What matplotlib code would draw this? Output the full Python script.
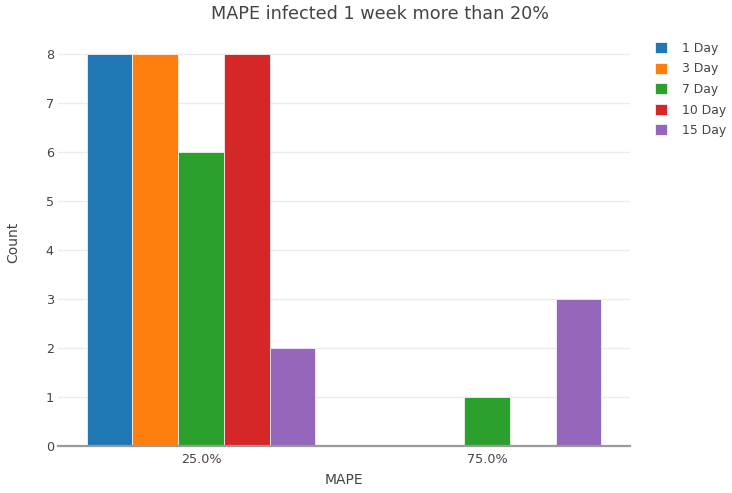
import matplotlib
matplotlib.use("Agg")
import matplotlib.pyplot as plt
import numpy as np

categories = ["25.0%", "75.0%"]
series_names = ["1 Day", "3 Day", "7 Day", "10 Day", "15 Day"]
series_values = [
    [8, 0],
    [8, 0],
    [6, 1],
    [8, 0],
    [2, 3],
]
colors = ["#1f77b4", "#ff7f0e", "#2ca02c", "#d62728", "#9467bd"]

W, H = 732, 493
plt.rcParams["font.family"] = ["DejaVu Sans"]

fig = plt.figure(figsize=(W / 100, H / 100), dpi=100)
left, right, top, bottom = 58, 630, 33, 446
ax = fig.add_axes([left / W, 1 - bottom / H, (right - left) / W, (bottom - top) / H])

n = len(series_names)
group = 0.8
bw = group / n
x = np.arange(len(categories))
handles = []
for i, (name, vals, c) in enumerate(zip(series_names, series_values, colors)):
    offs = -group / 2 + bw * (i + 0.5)
    b = ax.bar(x + offs, vals, width=bw, color=c, edgecolor="white",
               linewidth=0.5, label=name, zorder=3)
    handles.append(b)

ax.set_xlim(-0.5, 1.5)
ax.set_ylim(0, 8.42)
ax.set_xticks(x)
ax.set_xticklabels(categories)
ax.set_yticks(range(0, 9))
ax.tick_params(axis="both", length=0, labelsize=9.2, colors="#444444")
ax.tick_params(axis="x", pad=5)
ax.tick_params(axis="y", pad=3)
ax.grid(axis="y", color="#ebebeb", linewidth=1, zorder=0)
for s in ["top", "right", "left"]:
    ax.spines[s].set_visible(False)
ax.spines["bottom"].set_color("#9a9a9a")
ax.spines["bottom"].set_linewidth(1.6)
ax.spines["bottom"].set_zorder(4)

fig.text(380 / W, 1 - 14 / H, "MAPE infected 1 week more than 20%",
         ha="center", va="center", fontsize=12.7, color="#444444")
fig.text(344 / W, 1 - 480 / H, "MAPE", ha="center", va="center",
         fontsize=10, color="#444444")
fig.text(13 / W, 1 - 242 / H, "Count", ha="center", va="center",
         rotation=90, fontsize=10, color="#444444")

leg = fig.legend(handles=handles, labels=series_names, loc="upper left",
                 bbox_to_anchor=(650 / W, 1 - 37 / H), frameon=False,
                 fontsize=8.9, handlelength=1.0, handleheight=1.0,
                 labelspacing=0.61, handletextpad=1.2, borderaxespad=0)
for t in leg.get_texts():
    t.set_color("#444444")

fig.savefig("out.png", dpi=100)
